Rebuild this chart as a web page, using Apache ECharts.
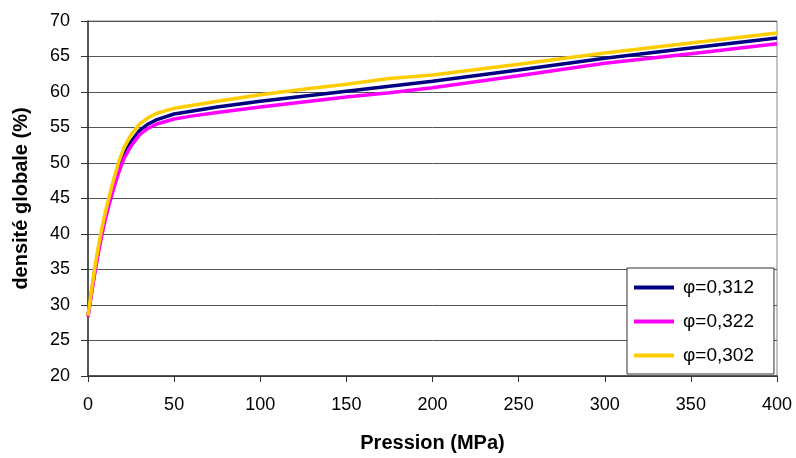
<!DOCTYPE html>
<html>
<head>
<meta charset="utf-8">
<script src="https://cdn.jsdelivr.net/npm/echarts@6/dist/echarts.min.js"></script>
<style>html,body{margin:0;padding:0;background:#fff}#c{width:796px;height:458px}</style>
</head>
<body>
<div id="c"></div>
<script>
var pressure = [0, 2, 4, 6, 8, 10, 12, 15, 18, 21, 25, 30, 35, 40, 50, 60, 75, 100, 125, 150, 175, 200, 250, 300, 350, 400];
var phi312 = [28.5, 31.7, 34.9, 37.7, 40.2, 42.4, 44.3, 47.0, 49.4, 51.3, 53.0, 54.6, 55.5, 56.1, 56.9, 57.3, 57.9, 58.7, 59.4, 60.1, 60.8, 61.5, 63.1, 64.75, 66.2, 67.6];
var phi322 = [28.3, 31.5, 34.6, 37.3, 39.8, 42.0, 43.9, 46.5, 48.8, 50.7, 52.4, 54.0, 54.9, 55.5, 56.2, 56.6, 57.1, 57.9, 58.6, 59.3, 59.9, 60.6, 62.3, 64.05, 65.4, 66.8];
var phi302 = [28.5, 32.0, 35.3, 38.2, 40.8, 43.0, 45.0, 47.8, 50.3, 52.2, 54.0, 55.5, 56.4, 57.0, 57.7, 58.1, 58.7, 59.6, 60.4, 61.1, 61.9, 62.4, 63.9, 65.5, 66.9, 68.3];
var seriesNames = ['φ=0,312', 'φ=0,322', 'φ=0,302'];
var seriesColors = ['#000080', '#FF00FF', '#FFCC00'];
var xTitle = 'Pression (MPa)';
var yTitle = 'densité globale (%)';

function pairs(xs, ys) { return xs.map(function (x, i) { return [x, ys[i]]; }); }
var allValues = [phi312, phi322, phi302];

var chart = echarts.init(document.getElementById('c'), null, {renderer: 'canvas'});
var font = '"Liberation Sans", Arial, sans-serif';
chart.setOption({
  animation: false,
  backgroundColor: '#fff',
  grid: {left: 88, right: 19, top: 21, bottom: 81, show: true, borderColor: '#888', borderWidth: 1, backgroundColor: 'transparent'},
  xAxis: {
    type: 'value', min: 0, max: 400, interval: 50,
    name: xTitle, nameLocation: 'middle', nameGap: 57,
    nameTextStyle: {fontFamily: font, fontSize: 20, fontWeight: 'bold', color: '#000'},
    axisLine: {show: true, lineStyle: {color: '#333', width: 1.5}},
    axisTick: {show: true, length: 6, lineStyle: {color: '#333'}},
    axisLabel: {fontFamily: font, fontSize: 18, color: '#000', margin: 20},
    splitLine: {show: false}
  },
  yAxis: {
    type: 'value', min: 20, max: 70, interval: 5,
    name: yTitle, nameLocation: 'middle', nameGap: 57,
    nameTextStyle: {fontFamily: font, fontSize: 20, fontWeight: 'bold', color: '#000'},
    axisLine: {show: true, lineStyle: {color: '#333', width: 1.5}},
    axisTick: {show: true, length: 7, lineStyle: {color: '#333'}},
    axisLabel: {fontFamily: font, fontSize: 18, color: '#000', margin: 18},
    splitLine: {show: true, lineStyle: {color: '#555', width: 1}}
  },
  legend: {
    orient: 'vertical', left: 627, top: 268,
    data: seriesNames,
    backgroundColor: '#fff', borderColor: '#333', borderWidth: 1,
    padding: [10, 20, 9, 7], itemGap: 15, itemWidth: 40, itemHeight: 4, icon: 'rect',
    textStyle: {fontFamily: font, fontSize: 19, color: '#000', padding: [0, 0, 0, 4]}
  },
  series: seriesNames.map(function (n, i) {
    return {
      name: n, type: 'line', data: pairs(pressure, allValues[i]),
      showSymbol: false, symbol: 'none', smooth: false,
      lineStyle: {color: seriesColors[i], width: 3.5},
      itemStyle: {color: seriesColors[i]},
      z: 2 + i
    };
  })
});
</script>
</body>
</html>
